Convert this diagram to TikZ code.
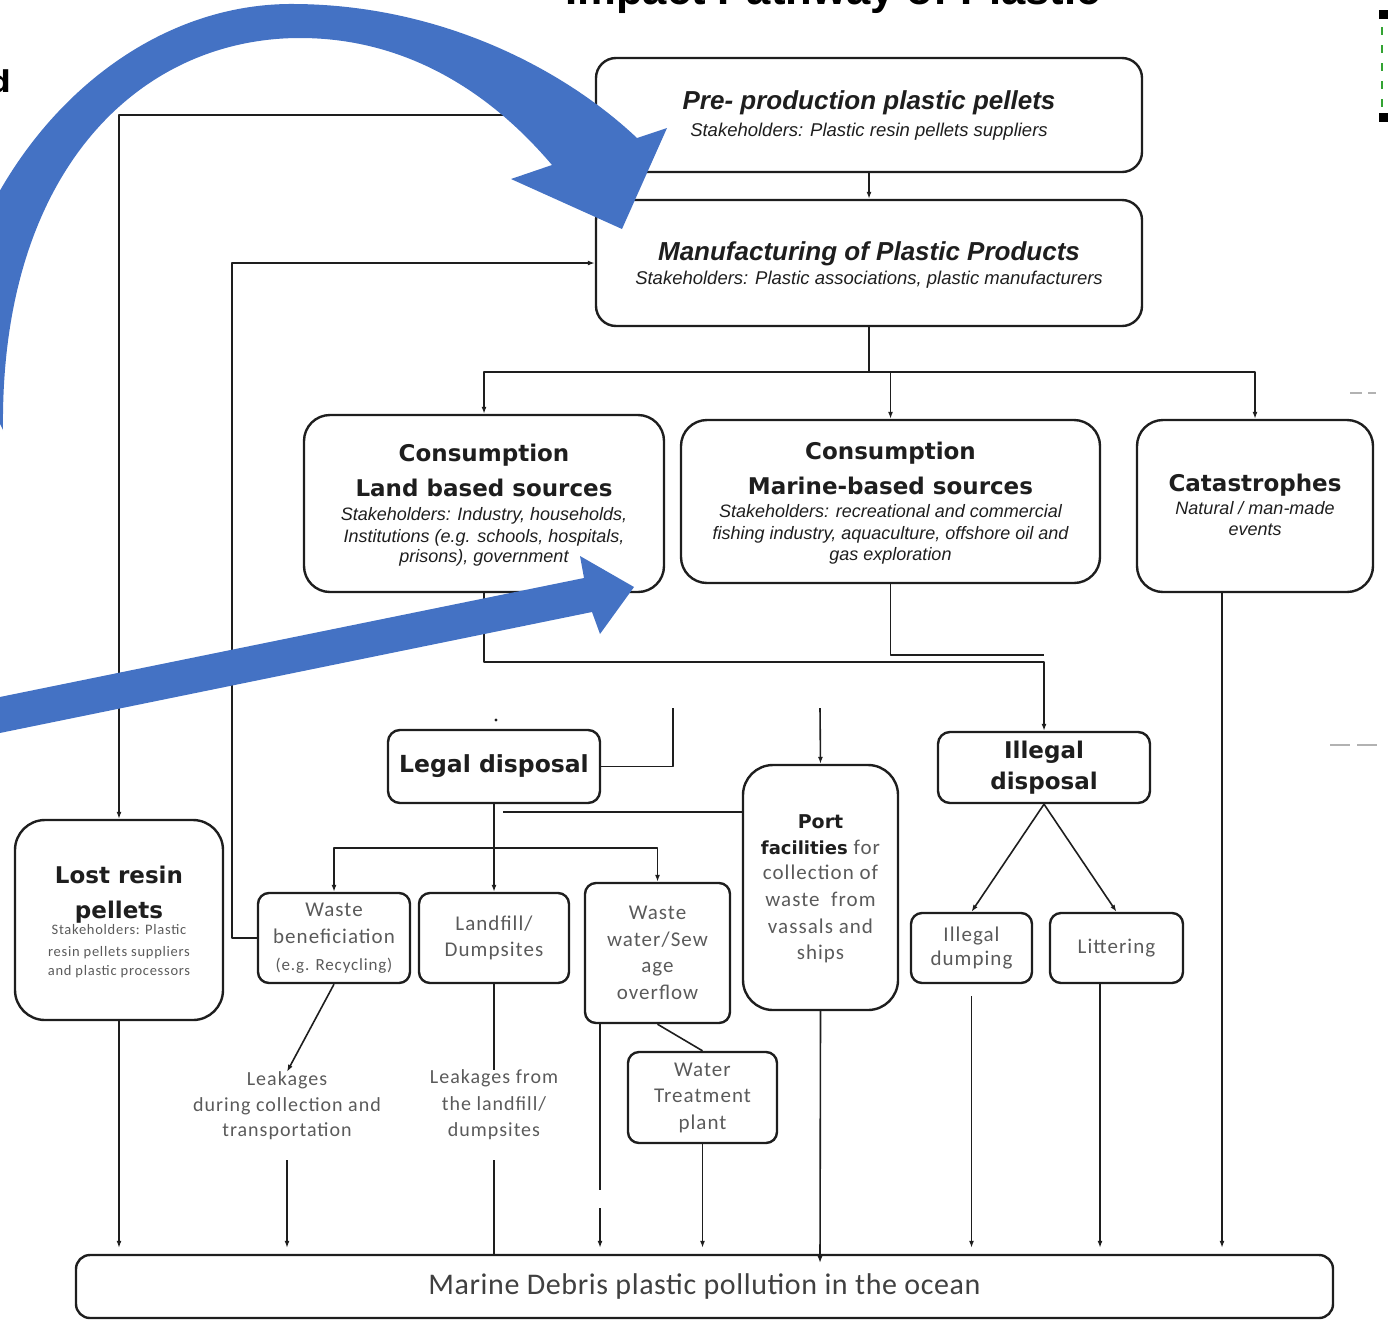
\documentclass[tikz,border=0pt]{standalone}
\usepackage{fontspec}
\setmainfont{Liberation Sans}
\newfontfamily\hfont{DejaVu Sans}
\newfontfamily\cfont{Carlito}[LetterSpace=5]
\newfontfamily\ofont{Carlito}[LetterSpace=2]
\usetikzlibrary{arrows.meta,calc}
\definecolor{arrblue}{RGB}{68,114,196}
\definecolor{ink}{RGB}{30,30,30}
\definecolor{grayt}{RGB}{90,90,90}
\newcommand\PreT{\fontsize{26}{30}\selectfont\bfseries\itshape}
\newcommand\PreS{\fontsize{18.5}{22}\selectfont\itshape}
\newcommand\HeadF{\hfont\bfseries\fontsize{23}{30}\selectfont}
\newcommand\SmI{\fontsize{18}{21}\selectfont\itshape}
\newcommand\LowF{\cfont\fontsize{21}{26}\selectfont}
\begin{document}
\begin{tikzpicture}[x=1pt,y=-1pt,line join=round,
  box/.style={draw=ink, line width=2.4pt, rounded corners=20pt, inner sep=0pt, align=center, text=ink},
  sbox/.style={box, rounded corners=11pt, text=grayt},
  ln/.style={draw=ink, line width=1.6pt},
  arr/.style={ln, -{Latex[length=7pt,width=5pt]}},
  tl/.style={anchor=base, inner sep=0pt, text=ink},
  gl/.style={anchor=base, inner sep=0pt, text=grayt},
]
\useasboundingbox (0,0) rectangle (1388,1320);
\clip (0,0) rectangle (1388,1320);

% title and edge fragments
\node[anchor=base, inner sep=0pt, font=\fontsize{43.6}{48}\selectfont\bfseries] (title) at (833,4) {Impact Pathway of Plastic};
\node[anchor=base east, inner sep=0pt, font=\hfont\bfseries\fontsize{30}{34}\selectfont] (frag) at (11,92) {d};
\fill[black] (1379,10) rectangle (1388,19);
\fill[black] (1379,113) rectangle (1388,122);
\draw[green!55!black!80, line width=1.5pt, dash pattern=on 8pt off 10pt] (1382,27) -- (1382,108);
\draw[gray!60, line width=1.2pt] (1350,393) -- (1362,393) (1368,393) -- (1376,393);
\draw[gray!60, line width=1.2pt] (1330,745) -- (1350,745) (1357,745) -- (1377,745);

% boxes
\node[box, minimum width=546pt, minimum height=114pt] (pre) at (869,115) {};
\node[box, minimum width=546pt, minimum height=126pt] (manu) at (869,263) {};
\node[box, minimum width=360pt, minimum height=177pt, rounded corners=26pt] (land) at (484,503.5) {};
\node[box, minimum width=419pt, minimum height=163pt, rounded corners=26pt] (marine) at (890.5,501.5) {};
\node[box, minimum width=236pt, minimum height=172pt, rounded corners=26pt] (cat) at (1255,506) {};
\node[box, minimum width=212pt, minimum height=73pt, rounded corners=12pt, font=\HeadF\fontsize{23.5}{30}\selectfont] (legal) at (494,766.5) {Legal disposal};
\node[box, minimum width=212pt, minimum height=71pt, rounded corners=12pt, font=\HeadF\fontsize{23}{31}\selectfont] (illegal) at (1044,767.5) {Illegal\\disposal};
\node[box, minimum width=155pt, minimum height=245pt, rounded corners=30pt] (port) at (820.5,887.5) {};
\node[box, minimum width=208pt, minimum height=200pt, rounded corners=30pt] (lost) at (119,920) {};
\node[sbox, minimum width=152pt, minimum height=90pt] (wben) at (334,938) {};
\node[sbox, minimum width=150pt, minimum height=90pt, font=\LowF] (landfill) at (494,938) {Landfill/\\Dumpsites};
\node[sbox, minimum width=145pt, minimum height=140pt, font=\cfont\fontsize{21}{26.5}\selectfont] (wwater) at (657.5,953) {Waste\\water/Sew\\age\\overflow};
\node[sbox, minimum width=149pt, minimum height=91pt, font=\cfont\fontsize{21}{26.5}\selectfont] (wtreat) at (702.5,1097.5) {Water\\Treatment\\plant};
\node[sbox, minimum width=121pt, minimum height=70pt, font=\cfont\fontsize{21}{24}\selectfont] (idump) at (971.5,948) {Illegal\\dumping};
\node[sbox, minimum width=133pt, minimum height=70pt, font=\LowF] (litter) at (1116.5,948) {Littering};
\node[box, minimum width=1257pt, minimum height=63pt, rounded corners=14pt, text=ink!85, font=\ofont\fontsize{30}{32}\selectfont] (ocean) at (704.5,1286.5) {Marine Debris plastic pollution in the ocean};
\node[inner sep=0pt, align=center, text=grayt, font=\cfont\fontsize{20}{25.5}\selectfont] (leak1) at (287,1106) {Leakages\\during collection and\\transportation};
\node[inner sep=0pt, align=center, text=grayt, font=\cfont\fontsize{20}{26.5}\selectfont] (leak2) at (494,1105) {Leakages from\\the landfill/\\dumpsites};

% texts in boxes
\node[tl, font=\PreT] (pre-a) at (869,109) {Pre- production plastic pellets};
\node[tl, font=\PreS] (pre-b) at (869,136) {Stakeholders: Plastic resin pellets suppliers};
\node[tl, font=\PreT] (manu-a) at (869,260) {Manufacturing of Plastic Products};
\node[tl, font=\PreS] (manu-b) at (869,284) {Stakeholders: Plastic associations, plastic manufacturers};
\node[tl, font=\HeadF] (land-a) at (484,461) {Consumption};
\node[tl, font=\HeadF] (land-b) at (484,496) {Land based sources};
\node[tl, font=\SmI] (land-c) at (484,520) {Stakeholders: Industry, households,};
\node[tl, font=\SmI] (land-d) at (484,542) {Institutions (e.g. schools, hospitals,};
\node[tl, font=\SmI] (land-e) at (484,562) {prisons), government};
\node[tl, font=\HeadF] (mar-a) at (890.5,459) {Consumption};
\node[tl, font=\HeadF] (mar-b) at (890.5,494) {Marine-based sources};
\node[tl, font=\SmI] (mar-c) at (890.5,517) {Stakeholders: recreational and commercial};
\node[tl, font=\SmI] (mar-d) at (890.5,539) {fishing industry, aquaculture, offshore oil and};
\node[tl, font=\SmI] (mar-e) at (890.5,560) {gas exploration};
\node[tl, font=\HeadF] (cat-a) at (1255,491) {Catastrophes};
\node[tl, font=\SmI] (cat-b) at (1255,514) {Natural / man-made};
\node[tl, font=\SmI] (cat-c) at (1255,535) {events};
\node[tl, font=\HeadF] (lost-a) at (119,883) {Lost resin};
\node[tl, font=\HeadF] (lost-b) at (119,918) {pellets};
\node[gl, font=\cfont\fontsize{14.5}{16}\selectfont] (lost-c) at (119,934) {Stakeholders: Plastic};
\node[gl, font=\cfont\fontsize{14.5}{16}\selectfont] (lost-d) at (119,956) {resin pellets suppliers};
\node[gl, font=\cfont\fontsize{14.5}{16}\selectfont] (lost-e) at (119,975) {and plastic processors};
\node[tl, font=\hfont\bfseries\fontsize{19}{26}\selectfont] (port-a) at (820.5,828) {Port};
\node[gl, font=\LowF] (port-b) at (820.5,854) {\textcolor{ink}{\hfont\bfseries\fontsize{18}{26}\selectfont facilities} for};
\node[gl, font=\LowF] (port-c) at (820.5,879) {collection of};
\node[gl, font=\LowF] (port-d) at (820.5,906) {waste\ \ from};
\node[gl, font=\LowF] (port-e) at (820.5,933) {vassals and};
\node[gl, font=\LowF] (port-f) at (820.5,959) {ships};
\node[gl, font=\LowF] (wben-a) at (334,916) {Waste};
\node[gl, font=\LowF] (wben-b) at (334,943) {beneficiation};
\node[gl, font=\cfont\fontsize{17}{18}\selectfont] (wben-c) at (334,970) {(e.g. Recycling)};

% helper coordinates
\coordinate (y372) at (869,372);
\coordinate (y655) at (0,655);
\coordinate (y662) at (0,662);
\coordinate (y812) at (0,812);
\coordinate (y848) at (0,848);
\coordinate (c1) at (673,708);
\coordinate (c2) at (820,708);
\coordinate (c3) at (503,812);
\coordinate (c4) at (600,1190);
\coordinate (c5) at (600,1208);
\coordinate (c6) at (820,1263);
\coordinate (xlit) at (1100,0);
\coordinate (xcat) at (1222,0);

% connectors
\draw[arr] (pre.south) -- (manu.north);
\draw[ln] (manu.south) -- (y372);
\draw[arr] (y372) -| (land.north);
\draw[arr] (y372) -| (cat.north);
\draw[arr] (y372 -| marine.north) -- (marine.north);
\draw[arr] (pre.west) -| (lost.north);
\draw[arr] (wben.west) -- ++(-25,0) |- (manu.west);
\draw[arr] (land.south) |- (y662 -| illegal.north) -- (illegal.north);
\draw[ln] (marine.south) |- (y655 -| illegal.north);
\draw[ln] (legal.east) -| (c1);
\draw[arr] (c2) -- (port.north);
\draw[ln] (port.west |- y812) -- (c3);
\draw[arr] (legal.south) -- (landfill.north);
\draw[arr] (legal.south |- y848) -| (wben.north);
\draw[arr] (legal.south |- y848) -| (wwater.north);
\fill[ink] (496,720) circle (1.6);
\draw[arr] (wben.south) -- (leak1.north);
\draw[arr, shorten <=20pt, shorten >=6pt] (leak1.south) -- (leak1.south |- ocean.north);
\draw[ln] (landfill.south) -- (leak2.north);
\draw[ln, shorten <=20pt] (leak2.south) -- (leak2.south |- ocean.north);
\draw[ln] (wwater.south -| c4) -- (c4);
\draw[arr, shorten >=6pt] (c5) -- (c5 |- ocean.north);
\draw[ln] (wwater.south) -- (wtreat.north);
\draw[arr, shorten >=6pt] (wtreat.south) -- (wtreat.south |- ocean.north);
\draw[arr] (port.south) -- (c6);
\draw[arr] (illegal.south) -- (idump.north);
\draw[arr] (illegal.south) -- (litter.north);
\draw[arr, shorten <=12pt, shorten >=6pt] (idump.south) -- (idump.south |- ocean.north);
\draw[arr, shorten >=6pt] (litter.south -| xlit) -- (xlit |- ocean.north);
\draw[arr, shorten >=6pt] (cat.south -| xcat) -- (xcat |- ocean.north);
\draw[arr, shorten >=6pt] (lost.south) -- (lost.south |- ocean.north);

% blue block arrows
\fill[arrblue] (-50,320) .. controls (-10,140) and (130,6) .. (288,4)
  .. controls (440,3) and (565,70) .. (637,138) -- (667,128) -- (622,229) -- (511,179) -- (552,165)
  .. controls (485,86) and (400,38) .. (300,38) .. controls (140,38) and (0,170) .. (3,430) -- cycle;
\fill[arrblue] (-10,699) -- (584,578) -- (580,556) -- (634,587) -- (600,634) -- (592,612) -- (-10,735) -- cycle;
\end{tikzpicture}
\end{document}
